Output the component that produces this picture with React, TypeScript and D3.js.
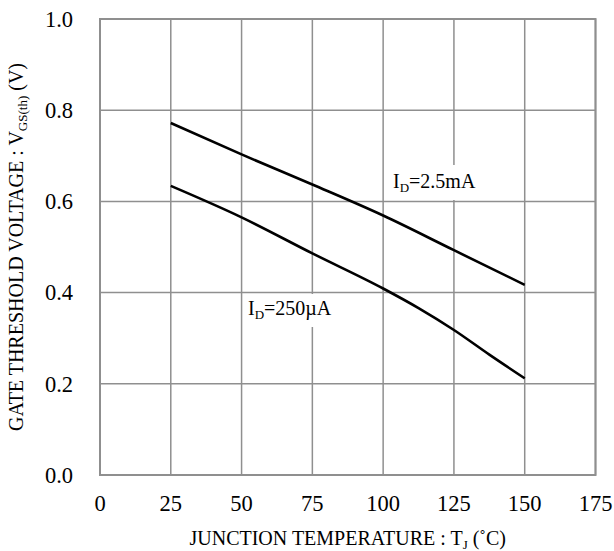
import React from "react";
import * as d3 from "d3";

// Junction temperature (°C) sampled along each curve
const tempsHigh = [25, 50, 75, 100, 125, 150];
const vthHigh = [0.772, 0.703, 0.637, 0.569, 0.493, 0.417]; // I_D = 2.5mA

const tempsLow = [25, 50, 75, 100, 112.5, 125, 137.5, 150];
const vthLow = [0.634, 0.565, 0.486, 0.409, 0.366, 0.318, 0.264, 0.212]; // I_D = 250µA

const xTicks = [0, 25, 50, 75, 100, 125, 150, 175];
const yTicks = [0, 0.2, 0.4, 0.6, 0.8, 1.0];

const W = 614;
const H = 551;
const plot = { left: 100, right: 595.5, top: 19, bottom: 475 };
const FONT = "'Liberation Serif', 'Times New Roman', serif";
const GRID = "#8f8f8f";

export default function App() {
  const x = d3.scaleLinear().domain([0, 175]).range([plot.left, plot.right]);
  const y = d3.scaleLinear().domain([0, 1]).range([plot.bottom, plot.top]);

  const line = d3
    .line<[number, number]>()
    .x((d) => x(d[0]))
    .y((d) => y(d[1]))
    .curve(d3.curveMonotoneX);

  const high = line(tempsHigh.map((t, i) => [t, vthHigh[i]]) as [number, number][]) || "";
  const low = line(tempsLow.map((t, i) => [t, vthLow[i]]) as [number, number][]) || "";

  return (
    <svg
      width={W}
      height={H}
      style={{ position: "absolute", left: 0, top: 0, background: "#fff" }}
      fontFamily={FONT}
    >
      {/* grid */}
      {xTicks.map((t) => (
        <line key={"gx" + t} x1={x(t)} x2={x(t)} y1={y(0)} y2={y(1)} stroke={GRID} strokeWidth={1.5} />
      ))}
      {yTicks.map((t) => (
        <line key={"gy" + t} x1={x(0)} x2={x(175)} y1={y(t)} y2={y(t)} stroke={GRID} strokeWidth={1.5} />
      ))}
      <rect
        x={plot.left}
        y={plot.top}
        width={plot.right - plot.left}
        height={plot.bottom - plot.top}
        fill="none"
        stroke={GRID}
        strokeWidth={2}
      />

      {/* curves */}
      <path d={high} fill="none" stroke="#000" strokeWidth={2.6} />
      <path d={low} fill="none" stroke="#000" strokeWidth={2.6} />

      {/* curve labels */}
      <rect x={390} y={165} width={88} height={35} fill="#fff" />
      <text x={393} y={188} fontSize={20} fill="#000">
        I<tspan fontSize={13} dy={4}>D</tspan>
        <tspan dy={-4}>=2.5mA</tspan>
      </text>
      <rect x={246} y={294} width={90} height={33} fill="#fff" />
      <text x={248} y={315} fontSize={20} fill="#000">
        I<tspan fontSize={13} dy={4}>D</tspan>
        <tspan dy={-4}>=250µA</tspan>
      </text>

      {/* tick labels */}
      {xTicks.map((t) => (
        <text key={"tx" + t} x={x(t)} y={510.5} fontSize={22.5} textAnchor="middle" fill="#000">
          {t}
        </text>
      ))}
      {yTicks.map((t) => (
        <text key={"ty" + t} x={73} y={y(t)} dy="0.35em" fontSize={22.5} textAnchor="end" fill="#000">
          {t.toFixed(1)}
        </text>
      ))}

      {/* axis titles */}
      <text x={(plot.left + plot.right) / 2} y={545} fontSize={20} textAnchor="middle" fill="#000">
        JUNCTION TEMPERATURE : T<tspan fontSize={13} dy={4}>J</tspan>
        <tspan dy={-4}> (˚C)</tspan>
      </text>
      <text
        transform={`translate(23, ${(plot.top + plot.bottom) / 2}) rotate(-90)`}
        fontSize={20}
        textAnchor="middle"
        fill="#000"
      >
        GATE THRESHOLD VOLTAGE : V<tspan fontSize={13} dy={4}>GS(th)</tspan>
        <tspan dy={-4}> (V)</tspan>
      </text>
    </svg>
  );
}
